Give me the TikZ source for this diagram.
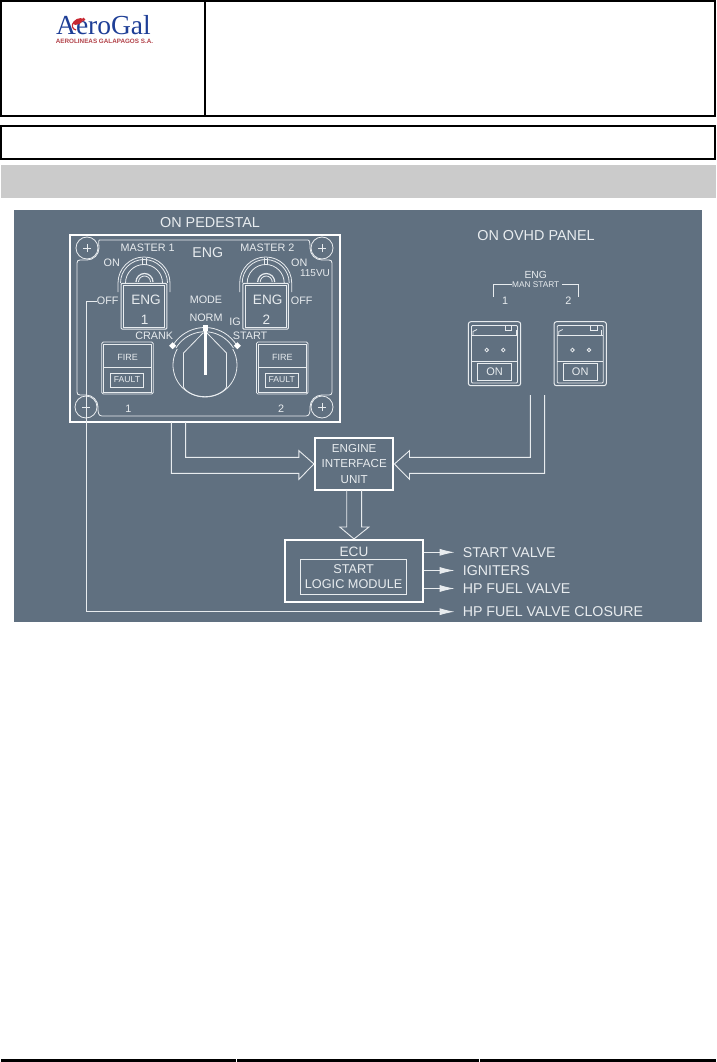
\documentclass[tikz,border=0pt]{standalone}
\usepackage{fontspec}
\setmainfont{Liberation Sans}
\newfontfamily\logofont{Liberation Serif}
\usetikzlibrary{positioning, arrows.meta, calc}
\definecolor{myPanel}{RGB}{96,112,128}
\definecolor{myLine}{RGB}{232,236,239}
\definecolor{myGrey}{RGB}{203,203,203}
\definecolor{myBlue}{RGB}{30,62,150}
\definecolor{myRed}{RGB}{200,40,50}
\newcommand{\fsz}[1]{\fontsize{#1}{#1}\selectfont}

\begin{document}
\begin{tikzpicture}[
  x=1pt, y=1pt,
  hdr/.style={draw=black, line width=2pt},
  lbl/.style={text=myLine, inner sep=0pt, font=\fsz{10.8}},
  big/.style={lbl, font=\fsz{14.4}},
  outlbl/.style={lbl, anchor=west, font=\fsz{14.2}},
  pnl/.style={draw=myLine, line width=0.8pt},
  wire/.style={draw=myLine, line width=0.9pt},
  sig/.style={wire, -{Latex[length=15pt,width=7pt]}},
  boxw/.style={draw=white, line width=2pt, inner sep=0pt, text=myLine},
]
  \useasboundingbox (0,0) rectangle (716,-1062);
  % page header
  \draw[hdr] (1,-1) rectangle (715,-116.5);
  \draw[hdr] (205,-1) -- (205,-116.5);
  \draw[hdr] (1,-126.5) rectangle (715,-158.5);
  \fill[myGrey] (1,-165) rectangle (716,-198);
  \node (logoName) at (103.5,-25.5) [text=myBlue, inner sep=0pt, font=\logofont\fsz{27.5}] {AeroGal};
  \node (logoSub) at (104.5,-41.5) [text=myRed!70!gray, inner sep=0pt, font=\bfseries\fsz{6.3}] {AEROLINEAS GALAPAGOS S.A.};
  \fill[myRed, rotate around={25:(78,-21.5)}] (78,-21.5) ellipse (5.5 and 2.8);
  \fill[myRed] (83.5,-19.5) circle (1.8);
  \draw[myRed, line width=1.2pt] (74,-22) .. controls (71,-25) and (72,-29) .. (76,-30);
  % diagram
  \fill[myPanel] (14,-210) rectangle (702,-622);
  \node[big] (titlePed) at (210,-222.5) {ON PEDESTAL};
  \node[big] (titleOvhd) at (536,-235.5) {ON OVHD PANEL};
  \node[boxw, minimum width=270.5pt, minimum height=187pt] (panel) at (204.8,-328.5) {};
  \draw[pnl] (99.5,-240) -- (308,-240) .. controls (310,-240) and (310,-245) .. (310,-248)
    arc (180:270:12) -- (329,-260) .. controls (331,-260) and (332,-261) .. (332,-263)
    -- (332,-392) .. controls (332,-394) and (331,-395) .. (329,-395) -- (322,-395)
    arc (90:180:12) .. controls (310,-412) and (310,-416) .. (306,-416)
    -- (102,-416) .. controls (98,-416) and (98,-412) .. (98,-407)
    arc (0:90:12) -- (80,-395) .. controls (78,-395) and (77,-394) .. (77,-392)
    -- (77,-263) .. controls (77,-261) and (78,-260) .. (80,-260) -- (87,-260)
    arc (270:360:12) .. controls (99,-245) and (98,-240) .. (99.5,-240) -- cycle;
  \foreach \sx/\sy in {87/248, 322/248, 86/407, 322/407} {
    \draw[pnl] (\sx,-\sy) circle (11);
    \draw[pnl] (\sx-4,-\sy) -- (\sx+4,-\sy);
    \draw[pnl] (\sx,-\sy-4) -- (\sx,-\sy+4);
  }
  \node[lbl, font=\fsz{14.2}] (engTitle) at (207.7,-252.7) {ENG};
  \node[lbl] (onLeft) at (111.7,-262.3) {ON};
  \node[lbl] (onRight) at (299.3,-262.3) {ON};
  \node[lbl, font=\fsz{10}] (vuLabel) at (315,-273.3) {115VU};
  \node[lbl] (offLeft) at (107.7,-301) {OFF};
  \node[lbl] (offRight) at (301.7,-301) {OFF};
  % master switches and fire boxes
  \foreach \n/\s/\f in {1/0/0, 2/121.7/154.7} {
    \begin{scope}[xshift=\s pt]
      \draw[pnl] (118,-292) -- (118,-283) arc (180:0:26) -- (170,-292);
      \draw[pnl] (120.5,-283) arc (180:0:23.5);
      \draw[pnl] (125.5,-283) arc (180:0:18.5);
      \draw[pnl] (142.3,-258) -- (142.3,-265) (146,-258) -- (146,-265);
      \draw[pnl, line width=1.2pt] (136,-282) arc (180:0:8.5);
      \draw[pnl] (138.5,-282) arc (180:0:6);
      \node[draw=myLine, line width=1pt, fill=myPanel, rounded corners=1pt, minimum width=45.7pt, minimum height=45.7pt, inner sep=0pt] (key\n) at (143.9,-306.2) {};
      \draw[pnl, line width=0.6pt] (123.5,-285.5) rectangle (164.5,-326.8);
      \node[lbl] (master\n) at (147.7-\n*2+2,-247.7) {MASTER \n};
      \node[lbl, font=\fsz{13.6}] (keyName\n) at (146,-300) {ENG};
      \node[lbl, font=\fsz{13.6}] (keyNum\n) at (144.7,-320) {\n};
    \end{scope}
    \begin{scope}[xshift=\f pt]
      \draw[pnl, rounded corners=1.5pt] (101.7,-342) rectangle (153.3,-394);
      \draw[pnl] (103.5,-344) rectangle (151.5,-392);
      \draw[pnl] (103.5,-367.5) -- (151.5,-367.5);
      \draw[pnl] (110.5,-373) rectangle (143.5,-387.5);
      \node[lbl, font=\fsz{9}] (fire\n) at (127.7,-357.7) {FIRE};
      \node[lbl, font=\fsz{8.6}] (fault\n) at (127,-380) {FAULT};
      \node[lbl] (pos\n) at (128.3-\n*2+2,-408.3) {\n};
    \end{scope}
  }
  % mode selector
  \draw[pnl] (177.3,-349) arc (150:390:32);
  \draw[pnl] (172.7,-345.7) arc (149:31:37.5);
  \draw[pnl] (176,-348) arc (149:31:33.5);
  \draw[pnl] (183.5,-353) -- (183.5,-387) .. controls (186,-392) and (195,-396.7) .. (205,-396.7)
    .. controls (215,-396.7) and (224,-392) .. (226.5,-387) -- (226.5,-353)
    -- (207,-333) -- (203,-333) -- cycle;
  \draw[white, line width=3pt] (205,-327) -- (205,-375);
  \fill[white] (202.5,-325) rectangle (207.5,-330.5);
  \fill[white] (172.7,-342.2) -- (176.2,-345.7) -- (172.7,-349.2) -- (169.2,-345.7) -- cycle;
  \fill[white] (237.3,-342.2) -- (240.8,-345.7) -- (237.3,-349.2) -- (233.8,-345.7) -- cycle;
  \node[lbl] (modeTitle) at (206,-300) {MODE};
  \node[lbl] (modeNorm) at (206,-317.3) {NORM};
  \node[lbl] (modeIg) at (235,-321.7) {IG};
  \node[lbl] (modeStart) at (250,-335.7) {START};
  \node[lbl] (modeCrank) at (154.3,-335.7) {CRANK};
  % overhead panel
  \node[lbl, font=\fsz{10.3}] (manEng) at (535.7,-275) {ENG};
  \node[lbl, font=\fsz{8.3}] (manStart) at (535.7,-284.3) {MAN START};
  \draw[pnl] (manStart.west) -- (493.3,-284.3) -- (493.3,-297.3);
  \draw[pnl] (manStart.east) ++(2.5,0) -- (578.3,-284.3) -- (578.3,-297.3);
  \foreach \n/\s in {1/0, 2/85.7} {
    \begin{scope}[xshift=\s pt]
      \draw[pnl, rounded corners=2.5pt, line width=1pt] (468.3,-321.7) rectangle (520.7,-385.7);
      \draw[pnl, rounded corners=1pt] (471.5,-325.5) rectangle (517.5,-383);
      \draw[pnl] (471.5,-335.7) -- (517.5,-335.7);
      \draw[pnl] (471.5,-361) -- (517.5,-361);
      \draw[pnl] (473,-335.7) -- (473,-331.5) -- (477,-329.5);
      \draw[pnl] (505,-325.5) rectangle (511.7,-330);
      \draw[pnl] (516,-335.7) -- (516,-329.5);
      \draw[pnl] (486.7,-350) circle (1.8) (503.3,-350) circle (1.8);
      \node[pnl, minimum width=34.4pt, minimum height=17.4pt, inner sep=0pt, text=myLine, font=\fsz{11}] (onBox\n) at (494.5,-372) {ON};
      \node[lbl] (manNum\n) at (505-\n*22.4+22.4,-301) {\n};
    \end{scope}
  }
  % blocks
  \node[boxw, minimum width=78.4pt, minimum height=52pt, align=center, font=\fontsize{11.6}{15.7}\selectfont] (eiu) at (354.2,-464) {ENGINE\\INTERFACE\\UNIT};
  \node[boxw, minimum width=138pt, minimum height=61.7pt] (ecu) at (354,-570.8) {};
  \node[lbl, font=\fsz{13.6}] (ecuName) at (354,-551.7) {ECU};
  \node[pnl, minimum width=106.4pt, minimum height=35pt, inner sep=0pt, text=myLine, align=center, font=\fontsize{12.7}{15.3}\selectfont] (startLogic) at (353.6,-576.5) {START\\LOGIC MODULE};
  % hollow arrows
  \draw[wire] (185.6,-422) |- (298.9,-457.3) -- (298.9,-450.7) -- (eiu.west) -- (298.9,-479.3) -- (298.9,-473.3) -| (171.4,-422);
  \draw[wire] (530.4,-395) |- (409.5,-457.3) -- (409.5,-450.7) -- (eiu.east) -- (409.5,-479.3) -- (409.5,-473.3) -| (544.6,-395);
  \draw[wire] (346.7,-490) -- (346.7,-527) -- (339.8,-527) -- (ecu.north) -- (368.9,-527) -- (361.6,-527) -- (361.6,-490);
  % outputs
  \node[outlbl] (outValve) at (462.6,-552.3) {START VALVE};
  \node[outlbl] (outIgn) at (462.6,-570.5) {IGNITERS};
  \node[outlbl] (outFuel) at (462.6,-588.5) {HP FUEL VALVE};
  \node[outlbl] (outClosure) at (462.6,-611.7) {HP FUEL VALVE CLOSURE};
  \draw[sig] (ecu.east |- outValve.west) -- ([xshift=-8pt]outValve.west);
  \draw[sig] (ecu.east |- outIgn.west) -- ([xshift=-8pt]outIgn.west);
  \draw[sig] (ecu.east |- outFuel.west) -- ([xshift=-8pt]outFuel.west);
  \draw[sig] (offLeft.west) -- ++(-10,0) |- ([xshift=-8pt]outClosure.west);
  % page footer
  \draw[black, line width=2.2pt] (1,-1060.5) -- (236,-1060.5) (237,-1060.5) -- (478.5,-1060.5) (479.5,-1060.5) -- (716,-1060.5);
\end{tikzpicture}
\end{document}
